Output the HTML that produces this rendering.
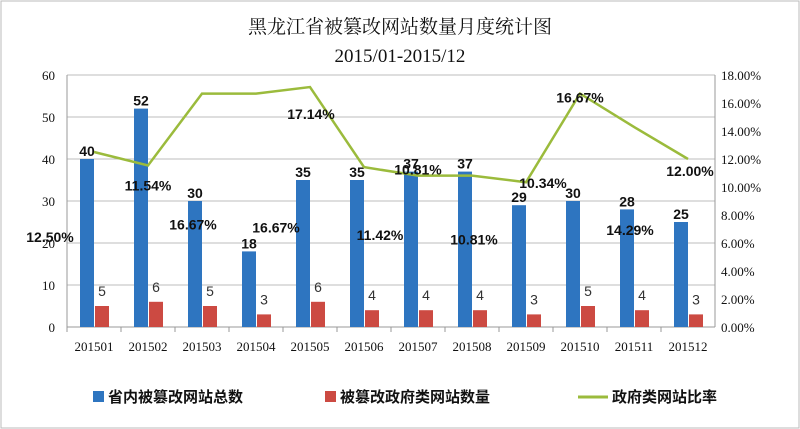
<!DOCTYPE html>
<html><head><meta charset="utf-8"><style>
body{margin:0;background:#fff}
svg{display:block;font-family:"Liberation Sans","Noto Sans CJK SC",sans-serif}
</style></head><body>
<svg id="c" width="800" height="429" viewBox="0 0 800 429">
<rect x="1" y="1" width="798" height="427" fill="#fff" stroke="#bbb"/>
<text x="400" y="33" text-anchor="middle" font-size="19" font-family="Liberation Serif,Noto Serif CJK SC,serif" fill="#111">黑龙江省被篡改网站数量月度统计图</text>
<text x="400" y="62" text-anchor="middle" font-size="19" font-family="Liberation Serif,Noto Serif CJK SC,serif" fill="#111">2015/01-2015/12</text>
<g id="g"></g>
<g>
<rect x="93" y="391" width="11" height="11" fill="#2e75c0"/>
<text x="108" y="402" font-size="15" font-weight="bold" fill="#111">省内被篡改网站总数</text>
<rect x="325" y="391" width="11" height="11" fill="#cc4a42"/>
<text x="340" y="402" font-size="15" font-weight="bold" fill="#111">被篡改政府类网站数量</text>
<line x1="578" y1="397" x2="608" y2="397" stroke="#9bbb3c" stroke-width="3"/>
<text x="612" y="402" font-size="15" font-weight="bold" fill="#111">政府类网站比率</text>
</g>
</svg>
<script>
const categories=["201501","201502","201503","201504","201505","201506","201507","201508","201509","201510","201511","201512"];
const totalValues=[40,52,30,18,35,35,37,37,29,30,28,25];
const govValues=[5,6,5,3,6,4,4,4,3,5,4,3];
const rateValues=[12.50,11.54,16.67,16.67,17.14,11.42,10.81,10.81,10.34,16.67,14.29,12.00];
const leftTicks=[0,10,20,30,40,50,60];
const rightTicks=[0,2,4,6,8,10,12,14,16,18];
// label offsets (layout only)
const rateLabelDx=[-44,0,-9,20,1,16,0,2,17,0,-4,2];
const rateLabelDy=[90,25,136,139,32,73,-1,69,6,9,108,17];
const NS="http://www.w3.org/2000/svg",g=document.getElementById('g');
const L=67,R=715,T=75,B=327;
const cw=(R-L)/categories.length;
const cx=i=>L+(i+0.5)*cw;
const yL=v=>B-(v/60)*(B-T);
const yR=v=>B-(v/18)*(B-T);
function mk(t,a,txt){const e=document.createElementNS(NS,t);for(const k in a)e.setAttribute(k,a[k]);if(txt!=null)e.textContent=txt;g.appendChild(e);return e;}
leftTicks.forEach(v=>{
 if(v>0){const l=mk('line',{x1:L,x2:R,y1:yL(v),y2:yL(v),stroke:'#bdbdbd'});
 
 }
 const t=mk('text',{x:L-12,y:yL(v)+5,'text-anchor':'end','font-size':13,'font-family':'Liberation Serif,serif',fill:'#111'},v);
 
 
});
rightTicks.forEach(v=>{
 const t=mk('text',{x:R+6,y:yR(v)+5,'font-size':13,'font-family':'Liberation Serif,serif',fill:'#111'},v.toFixed(2)+'%');
 
 
});
let ax=mk('line',{x1:L,x2:L,y1:T,y2:B,stroke:'#999'});


ax=mk('line',{x1:R,x2:R,y1:T,y2:B,stroke:'#999'});


ax=mk('line',{x1:L,x2:R,y1:B,y2:B,stroke:'#999'});


categories.forEach((c,i)=>{
 const tk=mk('line',{x1:L+i*cw,x2:L+i*cw,y1:B,y2:B+5,stroke:'#999'});
 
 
 const b=mk('rect',{x:cx(i)-14,y:yL(totalValues[i]),width:14,height:B-yL(totalValues[i]),fill:'#2e75c0'});
 
 
 const r=mk('rect',{x:cx(i)+1,y:yL(govValues[i]),width:14,height:B-yL(govValues[i]),fill:'#cc4a42'});
 
 
 const bl=mk('text',{x:cx(i)-7,y:yL(totalValues[i])-3,'text-anchor':'middle','font-size':14,'font-weight':'bold',fill:'#111'},totalValues[i]);
 
 
 const rl=mk('text',{x:cx(i)+8,y:yL(govValues[i])-10,'text-anchor':'middle','font-size':14,fill:'#333'},govValues[i]);
 
 
 const xl=mk('text',{x:cx(i),y:B+24,'text-anchor':'middle','font-size':13,'font-family':'Liberation Serif,serif',fill:'#111'},c);
 
 
});
const pl=mk('polyline',{points:rateValues.map((v,i)=>cx(i)+','+yR(v)).join(' '),fill:'none',stroke:'#9bbb3c','stroke-width':2.5});


rateValues.forEach((v,i)=>{
 const t=mk('text',{x:cx(i)+rateLabelDx[i],y:yR(v)+rateLabelDy[i],'text-anchor':'middle','font-size':14,'font-weight':'bold',fill:'#111'},v.toFixed(2)+'%');
 
 
});
</script>
</body></html>
